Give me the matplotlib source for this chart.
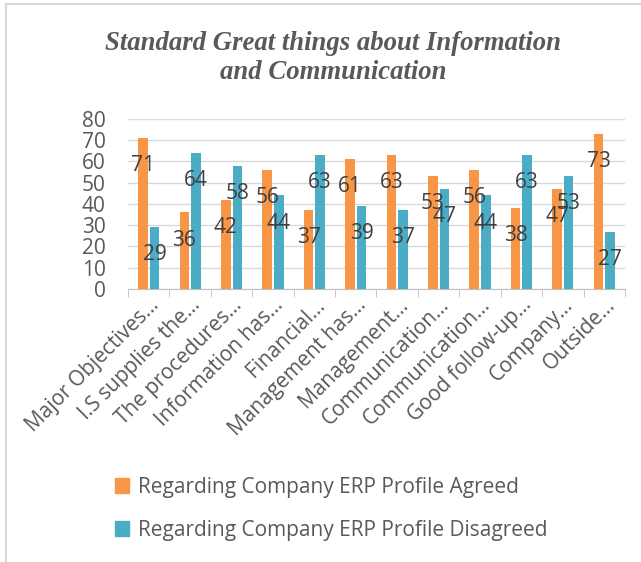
import numpy as np
import matplotlib
matplotlib.use("Agg")
from matplotlib import pyplot as plt
from matplotlib.patches import Patch
from matplotlib.lines import Line2D

''' data read from the reference chart '''
categories = ["Major Objectives…", "I.S supplies the…", "The procedures…",
              "Information has…", "Financial…", "Management has…",
              "Management…", "Communication…", "Communication…",
              "Good follow-up…", "Company…", "Outside…"]
agreed = [71, 36, 42, 56, 37, 61, 63, 53, 56, 38, 47, 73]
disagreed = [29, 64, 58, 44, 63, 39, 37, 47, 44, 63, 53, 27]
series_names = ["Regarding Company ERP Profile Agreed",
                "Regarding Company ERP Profile Disagreed"]
title = "Standard Great things about Information\nand Communication"
yticks = [0, 10, 20, 30, 40, 50, 60, 70, 80]

orange = "#F79646"
teal = "#4BACC6"
grey = "#595959"

plt.rcParams['font.family'] = ['Open Sans', 'DejaVu Sans']

fig = plt.figure(figsize=(6.41, 5.62), dpi=100)
ax = fig.add_axes([0.1997, 0.4858, 0.7753, 0.3025])

x = np.arange(len(categories))
w = 0.23
ax.bar(x - 0.14, agreed, w, color=orange, zorder=3)
ax.bar(x + 0.14, disagreed, w, color=teal, zorder=3)

# data labels sit a bit below the top of each bar
for i in range(len(categories)):
    ax.text(x[i] - 0.14, agreed[i] - 13, str(agreed[i]), ha="center", va="center",
            fontsize=15, color="#404040", zorder=4)
    ax.text(x[i] + 0.14, disagreed[i] - 13, str(disagreed[i]), ha="center", va="center",
            fontsize=15, color="#404040", zorder=4)

ax.set_xlim(-0.5, len(categories) - 0.5)
ax.set_ylim(0, 80)
ax.set_yticks(yticks)
ax.yaxis.grid(True, color="#d9d9d9", linewidth=1, zorder=0)
ax.tick_params(axis="y", length=0, pad=16, labelsize=15, labelcolor=grey)

ax.set_xticks(x)
ax.set_xticklabels(categories, rotation=45, ha="right", va="top",
                   rotation_mode="anchor", fontsize=15, color=grey)
ax.tick_params(axis="x", length=0, pad=4)
ax.set_xticks(np.arange(len(categories) + 1) - 0.5, minor=True)
ax.tick_params(axis="x", which="minor", length=6, color="#bfbfbf")

for s in ["top", "right", "left"]:
    ax.spines[s].set_visible(False)
ax.spines["bottom"].set_color("#bfbfbf")

fig.text(0.52, 0.897, title, ha="center", va="center", fontsize=19.3,
         family="Liberation Serif", fontweight="bold", style="italic",
         color=grey, linespacing=1.2)

handles = [Patch(color=orange), Patch(color=teal)]
fig.legend(handles, series_names, loc="center left", bbox_to_anchor=(0.15, 0.095),
           frameon=False, fontsize=15, labelcolor=grey, handlelength=0.7,
           handleheight=0.7, handletextpad=0.4, labelspacing=1.05)

# outer chart frame (top and left edge visible)
fig.add_artist(Line2D([0.009, 1.0], [0.993, 0.993], color="#d9d9d9", lw=1.5))
fig.add_artist(Line2D([0.009, 0.009], [0.0, 0.993], color="#d9d9d9", lw=1.5))

plt.savefig("out.png", dpi=100)
